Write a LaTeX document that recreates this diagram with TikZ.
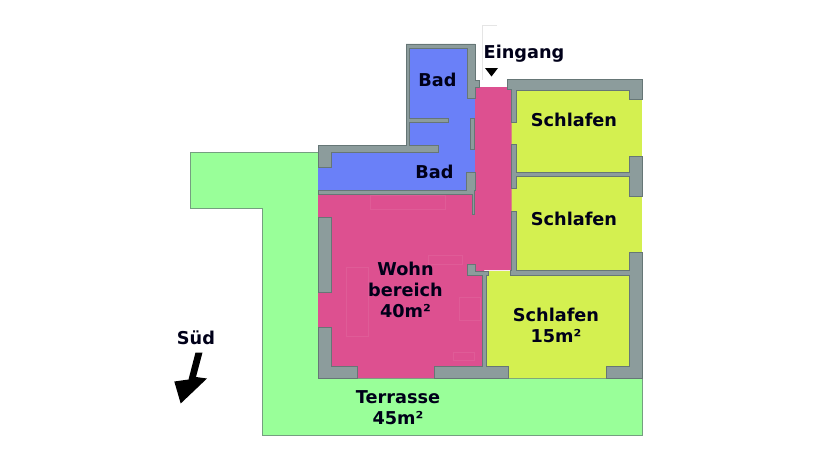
\documentclass[tikz,border=0pt]{standalone}
\usepackage{fontspec}
\setmainfont{DejaVu Sans}
\definecolor{wallc}{HTML}{8C9C9C}
\definecolor{walle}{HTML}{667676}
\definecolor{blueroom}{HTML}{6A80F8}
\definecolor{magroom}{HTML}{DD5090}
\definecolor{yelroom}{HTML}{D4F050}
\definecolor{greenroom}{HTML}{99FF99}
\tikzset{
  wallp/.style={fill=wallc,draw=walle,line width=0.6pt},
  roomfill/.style={draw=none},
  lbl/.style={font=\fontsize{17.7}{21}\selectfont\bfseries,text=black!90!blue,align=center,inner sep=0pt},
  faint/.style={draw=white,draw opacity=0.07,line width=0.6pt}
}
\begin{document}
\begin{tikzpicture}[x=1pt,y=-1pt]
\useasboundingbox (0,0) rectangle (840,460);
% terrace
\draw[fill=greenroom,draw=walle!70!greenroom,line width=0.6pt] (190,152)--(318,152)--(318,378)--(642,378)--(642,435)--(262,435)--(262,208)--(190,208)--cycle;
% rooms
\fill[roomfill,fill=blueroom] (409,47)--(475,47)--(475,192)--(318,192)--(318,150)--(409,150)--cycle;
\fill[roomfill,fill=yelroom] (511,88)--(642,88)--(642,272)--(511,272)--cycle;
\fill[roomfill,fill=yelroom] (486,271)--(629,271)--(629,367)--(606,367)--(606,378)--(508,378)--(508,367)--(486,367)--cycle;
\fill[roomfill,fill=magroom] (475,87)--(511.5,87)--(511.5,270)--(484,270)--(484,378)--(318,378)--(318,193)--(475,193)--cycle;
% faint furniture lines
\draw[faint] (346,267) rectangle (368,336);
\draw[faint] (453,352) rectangle (474,360);
\draw[faint] (370,195) rectangle (445,209);
\draw[faint] (459,297) rectangle (480,320);
\draw[faint] (428,255) rectangle (462,264);
% entrance
\draw[black!10,line width=0.6pt] (496.5,25)--(482,25)--(482,80);
\fill[black] (485,68)--(498,68)--(491.5,76.5)--cycle;
% walls: bath
\draw[wallp] (406,44)--(475,44)--(475,80)--(479,80)--(479,87)--(475,87)--(475,98)--(467,98)--(467,48)--(409.5,48)--(409.5,118)--(448,118)--(448,122)--(409.5,122)--(409.5,145)--(438,145)--(438,152)--(331,152)--(331,167)--(318,167)--(318,145)--(406,145)--cycle;
\draw[wallp] (470,118)--(474.5,118)--(474.5,149)--(470,149)--cycle;
\draw[wallp] (466,172)--(475,172)--(475,190)--(474.5,190)--(474.5,214)--(472,214)--(472,194)--(318,194)--(318,190)--(466,190)--cycle;
% walls: living
\draw[wallp] (318,217) rectangle (331,292);
\draw[wallp] (318,327)--(331,327)--(331,366)--(357,366)--(357,378)--(318,378)--cycle;
\draw[wallp] (434,366)--(482,366)--(482,275)--(467,275)--(467,264)--(475,264)--(475,271)--(488,271)--(488,275)--(486,275)--(486,366)--(508.5,366)--(508.5,378)--(434,378)--cycle;
% walls: bedrooms
\draw[wallp] (507,79)--(642,79)--(642,99)--(629,99)--(629,90)--(516,90)--(516,122)--(511,122)--(511,89)--(507,89)--cycle;
\draw[wallp] (511,144)--(516,144)--(516,172)--(629,172)--(629,156)--(642,156)--(642,196)--(629,196)--(629,176)--(516,176)--(516,188)--(511,188)--cycle;
\draw[wallp] (511,211)--(516,211)--(516,270.5)--(629,270.5)--(629,252)--(642,252)--(642,378)--(606,378)--(606,366)--(629,366)--(629,275.5)--(510,275.5)--(510,270.5)--(511,270.5)--cycle;
% labels
\node[lbl] (badone) at (437.5,80) {Bad};
\node[lbl] (badtwo) at (434.5,172) {Bad};
\node[lbl] (eingang) at (524,54) {Eingang};
\node[lbl] (schlafa) at (574,120) {Schlafen};
\node[lbl] (schlafb) at (574,219) {Schlafen};
\node[lbl] (schlafc) at (556,325.5) {Schlafen\\15m²};
\node[lbl] (wohn) at (405.5,289.5) {Wohn\\bereich\\40m²};
\node[lbl] (terrasse) at (398,407.5) {Terrasse\\45m²};
\node[lbl] (sued) at (196,338) {Süd};
% south arrow
\fill[black] (195.5,352.5)--(202.5,352.5)--(196,377)--(207,378.5)--(180.7,403.5)--(174.3,381.5)--(188.5,379.5)--cycle;
\end{tikzpicture}
\end{document}
